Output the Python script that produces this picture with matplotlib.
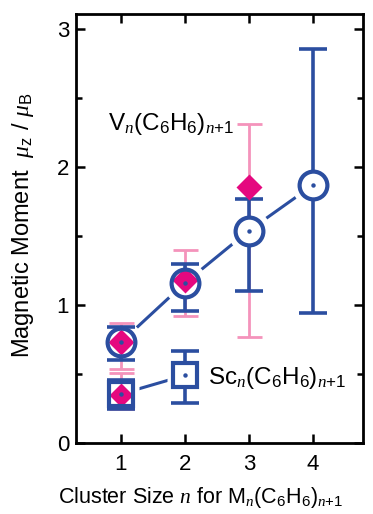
import matplotlib
matplotlib.use("Agg")
import matplotlib.pyplot as plt
import numpy as np

plt.rcParams['font.family'] = ['Liberation Sans', 'DejaVu Sans']
plt.rcParams['mathtext.fontset'] = 'custom'
plt.rcParams['mathtext.rm'] = 'Liberation Sans'
plt.rcParams['mathtext.it'] = 'Liberation Serif:italic'
plt.rcParams['mathtext.bf'] = 'Liberation Sans:bold'

# ---- data ----
v_n = [1, 2, 3, 4]
v_blue = [0.73, 1.16, 1.54, 1.87]
v_blue_hi = [0.84, 1.30, 1.77, 2.855]
v_blue_lo = [0.60, 0.96, 1.10, 0.94]

v_pink_n = [1, 2, 3]
v_pink = [0.73, 1.18, 1.855]
v_pink_hi = [0.87, 1.40, 2.31]
v_pink_lo = [0.54, 0.92, 0.77]

sc_n = [1, 2]
sc_blue = [0.355, 0.49]
sc_blue_hi = [0.46, 0.67]
sc_blue_lo = [0.25, 0.29]

sc_pink_n = [1]
sc_pink = [0.35]
sc_pink_hi = [0.51]
sc_pink_lo = [0.25]

xticks = [1, 2, 3, 4]
yticks = [0, 1, 2, 3]

BLUE = '#2B4EA0'
PINK_L = '#F493BB'
MAGENTA = '#E5087F'

fig = plt.figure(figsize=(3.73, 5.14), dpi=100)
ax = fig.add_axes([76/373, 1-443/514, (363-76)/373, (443-14)/514])

def err(y, hi, lo):
    y = np.array(y); return [y - np.array(lo), np.array(hi) - y]

# connecting lines with white halos (gaps near markers)
ax.plot(v_n, v_blue, '-', color=BLUE, lw=2.2, zorder=1)
ax.plot(v_n, v_blue, 'o', ms=31, mfc='white', mec='none', zorder=1.5)
ax.plot(sc_n, sc_blue, '-', color=BLUE, lw=2.2, zorder=1)
ax.plot(sc_n, sc_blue, 's', ms=26, mfc='white', mec='none', zorder=1.5)

# pink error bars
ax.errorbar(v_pink_n, v_pink, yerr=err(v_pink, v_pink_hi, v_pink_lo), fmt='none',
            ecolor=PINK_L, elinewidth=2.0, capsize=9, capthick=2.0, zorder=2)
ax.errorbar(sc_pink_n, sc_pink, yerr=err(sc_pink, sc_pink_hi, sc_pink_lo), fmt='none',
            ecolor=PINK_L, elinewidth=2.0, capsize=9, capthick=2.0, zorder=2)

# blue error bars
ax.errorbar(v_n, v_blue, yerr=err(v_blue, v_blue_hi, v_blue_lo), fmt='none',
            ecolor=BLUE, elinewidth=2.6, capsize=10, capthick=2.6, zorder=3)
ax.errorbar(sc_n, sc_blue, yerr=err(sc_blue, sc_blue_hi, sc_blue_lo), fmt='none',
            ecolor=BLUE, elinewidth=2.6, capsize=10, capthick=2.6, zorder=3)

# white faces
ax.plot(v_n, v_blue, 'o', ms=20, mfc='white', mec='none', zorder=4)
ax.plot(sc_n, sc_blue, 's', ms=17.5, mfc='white', mec='none', zorder=4)

# pink diamonds
ax.plot(v_pink_n, v_pink, 'D', ms=13.0, mfc=MAGENTA, mec='none', zorder=5)
ax.plot(sc_pink_n, sc_pink, 'D', ms=12.0, mfc=MAGENTA, mec='none', zorder=5)

# blue marker edges
ax.plot(v_n, v_blue, 'o', ms=20, mfc='none', mec=BLUE, mew=3.0, zorder=6)
ax.plot(sc_n, sc_blue, 's', ms=17.5, mfc='none', mec=BLUE, mew=3.0, zorder=6)
# center dots
ax.plot(v_n, v_blue, 'o', ms=3.2, mfc=BLUE, mec='none', zorder=7)
ax.plot(sc_n, sc_blue, 'o', ms=3.2, mfc=BLUE, mec='none', zorder=7)

ax.set_xlim(0.30, 4.78)
ax.set_ylim(0, 3.11)
ax.set_xticks(xticks)
ax.set_yticks(yticks)
ax.set_yticks([0.5, 1.5, 2.5], minor=True)
ax.tick_params(axis='both', which='both', direction='in', top=True, right=True,
               labelsize=16, width=1.8)
ax.tick_params(axis='both', which='major', length=6.5)
ax.tick_params(axis='both', which='minor', length=4.5)
ax.tick_params(axis='x', pad=8)
ax.tick_params(axis='y', pad=5)
for s in ax.spines.values():
    s.set_linewidth(2.0)

xl = ax.set_xlabel(r'Cluster Size $n$ for M$_{n}$(C$_{6}$H$_{6}$)$_{n\mathrm{+1}}$', fontsize=15.5)
xl.set_ha('left'); xl.set_va('center')
ax.xaxis.set_label_coords((58-76)/287, (443-497)/429)
yl = ax.set_ylabel(r'Magnetic Moment  $\mu_{\mathrm{z}}$ / $\mu_{\mathrm{B}}$', fontsize=17)
yl.set_va('center')
ax.yaxis.set_label_coords((23-76)/287, (443-225)/429)

ax.text(0.80, 2.315, r'V$_{n}$(C$_{6}$H$_{6}$)$_{n\mathrm{+1}}$', fontsize=17.5, va='center', ha='left')
ax.text(2.36, 0.47, r'Sc$_{n}$(C$_{6}$H$_{6}$)$_{n\mathrm{+1}}$', fontsize=17.5, va='center', ha='left')

fig.savefig('out.png', dpi=100)
